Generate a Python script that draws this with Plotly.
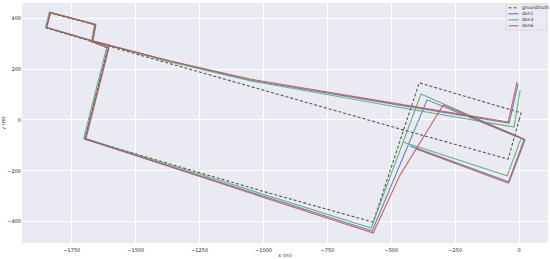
import plotly.graph_objects as go

# trajectory waypoints (metres)
gt_x = [0, 8, -391, -571, -994, -1699, -1609, -1671, -1659, -1836, -1851, -1679, -454, -43, 0]
gt_y = [0, 28, 146, -402, -283, -75, 283, 307, 374, 421, 362, 311, -39, -154, 0]

don1_x = [-427, -39, 23, -360, -575, -994, -1699, -1607, -1669, -1657, -1834, -1849, -1677, -1366, -1053, -544, -39, -4]
don1_y = [-102, -244, -79, 79, -437, -303, -75, 284, 309, 376, 423, 364, 313, 232, 157, 71, -12, 142]

don3_x = [-454, -47, 8, -384, -579, -994, -1703, -1613, -1673, -1661, -1838, -1853, -1680, -1366, -1053, -544, -20, 4]
don3_y = [-87, -220, -71, 102, -425, -295, -71, 287, 310, 377, 424, 365, 314, 228, 154, 63, -28, 118]

don6_x = [-403, -43, 20, -297, -466, -571, -994, -1695, -1605, -1668, -1656, -1833, -1848, -1676, -1366, -1053, -544, -43, -8]
don6_y = [-114, -248, -75, 59, -217, -445, -307, -75, 283, 308, 375, 422, 363, 312, 232, 161, 75, -8, 150]

x_ticks = [-1750, -1500, -1250, -1000, -750, -500, -250, 0]
y_ticks = [-400, -200, 0, 200, 400]

series = [
    ("groundtruth", gt_x, gt_y, "#555555", "3px,2px"),
    ("don1", don1_x, don1_y, "#4c72b0", "solid"),
    ("don3", don3_x, don3_y, "#55a868", "solid"),
    ("don6", don6_x, don6_y, "#c44e52", "solid"),
]

fig = go.Figure()
for name, xs, ys, color, dash in series:
    fig.add_trace(go.Scatter(x=xs, y=ys, mode="lines", name=name, showlegend=False,
                             line=dict(color=color, width=1.1, dash=dash),
                             opacity=1 if dash != "solid" else 0.85))

# small matplotlib-style legend box in the top right corner
fig.add_shape(type="rect", xref="paper", yref="paper", x0=0.920, x1=0.998, y0=0.887, y1=0.995,
              fillcolor="rgba(234,234,242,0.8)", line=dict(color="#cccccc", width=0.5))
for i, (name, xs, ys, color, dash) in enumerate(series):
    yy = 0.980 - i * 0.025
    fig.add_shape(type="line", xref="paper", yref="paper", x0=0.925, x1=0.944, y0=yy, y1=yy,
                  line=dict(color=color, width=1, dash=dash))
    fig.add_annotation(x=0.947, y=yy, xref="paper", yref="paper", text=name, showarrow=False,
                       xanchor="left", yanchor="middle", font=dict(size=4.5, color="#262626"))

axis_style = dict(showgrid=True, gridcolor="white", gridwidth=1, zeroline=False,
                  showline=False, ticks="", ticklen=0, tickfont=dict(size=5, color="#262626"))
fig.update_xaxes(range=[-1945, 113], tickvals=x_ticks, ticklabelstandoff=3,
                 title=dict(text="x (m)", font=dict(size=5, color="#262626"), standoff=1),
                 **axis_style)
fig.update_yaxes(range=[-484, 460], tickvals=y_ticks,
                 title=dict(text="y (m)", font=dict(size=5, color="#262626"), standoff=2),
                 **axis_style)

fig.update_layout(
    width=550, height=259,
    margin=dict(l=22, r=2, t=3, b=16),
    plot_bgcolor="#eaeaf2", paper_bgcolor="white",
    font=dict(family="DejaVu Sans", size=5, color="#262626"),
    showlegend=False,
)
fig.write_html("out.html", config={"displayModeBar": False},
               post_script="document.body.style.margin='0px';")
